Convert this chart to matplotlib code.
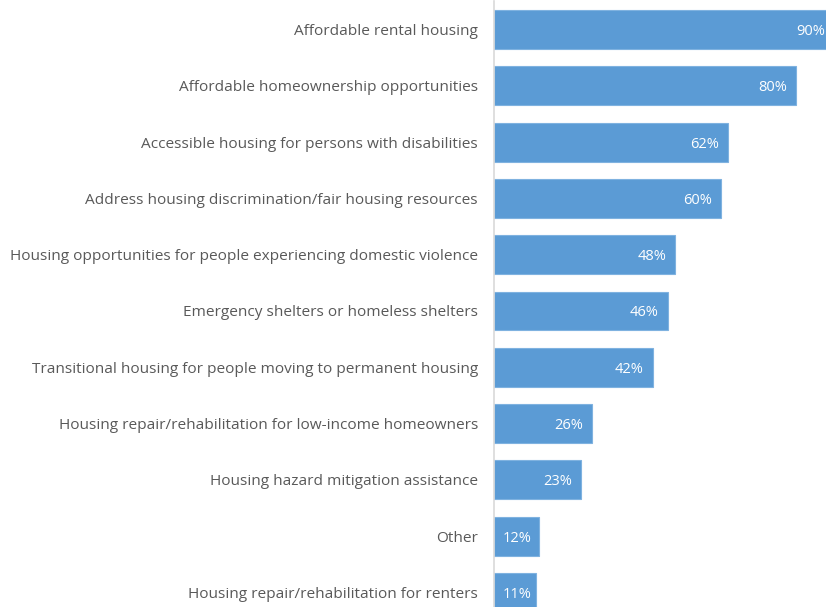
import matplotlib
matplotlib.use("Agg")
import matplotlib.pyplot as plt

categories = [
    "Affordable rental housing",
    "Affordable homeownership opportunities",
    "Accessible housing for persons with disabilities",
    "Address housing discrimination/fair housing resources",
    "Housing opportunities for people experiencing domestic violence",
    "Emergency shelters or homeless shelters",
    "Transitional housing for people moving to permanent housing",
    "Housing repair/rehabilitation for low-income homeowners",
    "Housing hazard mitigation assistance",
    "Other",
    "Housing repair/rehabilitation for renters",
]
values = [90, 80, 62, 60, 48, 46, 42, 26, 23, 12, 11]

plt.rcParams['font.family'] = ['Open Sans', 'DejaVu Sans']

W, H = 826, 607
fig = plt.figure(figsize=(W / 100, H / 100), dpi=100)
left_px = 494
px_per_unit = 3.78
xmax = 100
ax_w = xmax * px_per_unit
top_px = 1.35
ax_h = 11 * 56.3
ax = fig.add_axes([left_px / W, (H - top_px - ax_h) / H, ax_w / W, ax_h / H])

bar_color = "#5B9BD5"
y = list(range(len(categories)))
ax.barh(y, values, height=0.69, color=bar_color, edgecolor="#7FB2E0", linewidth=0.8, zorder=2)
ax.set_xlim(0, xmax)
ax.set_ylim(len(categories) - 0.5, -0.5)

label_w = 28  # approx label width in px
for yi, v in zip(y, values):
    bar_px = v * px_per_unit
    if bar_px - 9 - label_w < 9:
        ax.annotate(f"{v}%", xy=(0, yi), xytext=(9, -2), textcoords="offset pixels",
                    ha="left", va="center", color="white", fontsize=10.5, zorder=3,
                    annotation_clip=False)
    else:
        ax.annotate(f"{v}%", xy=(v, yi), xytext=(-9, -2), textcoords="offset pixels",
                    ha="right", va="center", color="white", fontsize=10.5, zorder=3,
                    annotation_clip=False)

ax.set_yticks(y)
ax.set_yticklabels(categories, fontsize=11.1, color="#595959")
ax.tick_params(axis="y", length=0, pad=16 * 72 / 100)
ax.set_xticks([])
for s in ["top", "right", "bottom"]:
    ax.spines[s].set_visible(False)
ax.spines["left"].set_color("#D9D9D9")
ax.spines["left"].set_linewidth(1.2)

fig.savefig("out.png", dpi=100)
